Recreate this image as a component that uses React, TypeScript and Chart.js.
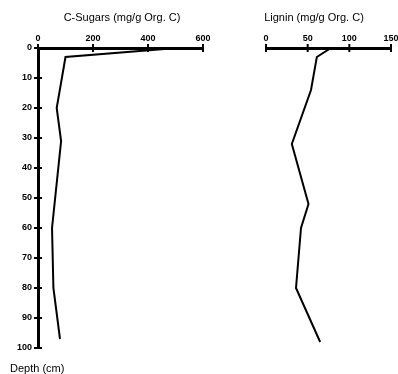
import React, { useEffect, useRef } from 'react';
import { Chart, registerables } from 'chart.js';
Chart.register(...registerables);

const sugarDepths = [0, 3, 20, 31, 60, 80, 97];
const sugarValues = [505, 100, 68, 84, 51, 56, 80];
const ligninDepths = [0, 3, 14, 32, 52, 60, 80, 98];
const ligninValues = [78, 61, 54, 31, 51, 42, 36, 65];
const depthTicks = [0, 10, 20, 30, 40, 50, 60, 70, 80, 90, 100];
const sugarTicks = [0, 200, 400, 600];
const ligninTicks = [0, 50, 100, 150];

const FONT = '"Liberation Sans", Arial, Helvetica, sans-serif';

const crossTicks = {
  id: 'crossTicks',
  afterDraw(chart: any) {
    const ctx = chart.ctx;
    ctx.save();
    ctx.strokeStyle = '#000';
    ctx.lineWidth = 2;
    const x = chart.scales.x;
    const top = chart.chartArea.top;
    x.ticks.forEach((t: any) => {
      const px = x.getPixelForValue(t.value);
      ctx.beginPath();
      ctx.moveTo(px, top - 4);
      ctx.lineTo(px, top + 4);
      ctx.stroke();
    });
    const y = chart.scales.y;
    if (y.options.display) {
      const left = chart.chartArea.left;
      y.ticks.forEach((t: any) => {
        const py = y.getPixelForValue(t.value);
        ctx.beginPath();
        ctx.moveTo(left - 4, py);
        ctx.lineTo(left + 4, py);
        ctx.stroke();
      });
    }
    ctx.restore();
  },
};

function makeConfig(depths: number[], values: number[], xTicks: number[], showY: boolean, padLeft: number) {
  const data = depths.map((d, i) => ({ x: values[i], y: d }));
  return {
    type: 'scatter' as const,
    data: {
      datasets: [
        {
          data,
          showLine: true,
          borderColor: '#000',
          borderWidth: 2,
          pointRadius: 0,
          tension: 0,
          fill: false,
        },
      ],
    },
    options: {
      animation: false as const,
      responsive: false,
      maintainAspectRatio: false,
      layout: { padding: { left: padLeft, top: 0, right: 7, bottom: 26 } },
      plugins: { legend: { display: false }, tooltip: { enabled: false }, title: { display: false } },
      scales: {
        x: {
          type: 'linear' as const,
          position: 'top' as const,
          min: xTicks[0],
          max: xTicks[xTicks.length - 1],
          afterBuildTicks: (s: any) => {
            s.ticks = xTicks.map((v) => ({ value: v }));
          },
          afterFit: (s: any) => {
            s.height = 48;
            s.paddingLeft = 0;
            s.paddingRight = 0;
          },
          ticks: { color: '#000', font: { family: FONT, size: 9, weight: 'bold' as const }, padding: 4, maxRotation: 0, autoSkip: false },
          grid: { display: true, drawOnChartArea: false, drawTicks: false, color: '#000' },
          border: { display: true, width: 3, color: '#000' },
        },
        y: {
          type: 'linear' as const,
          display: showY,
          reverse: true,
          min: depthTicks[0],
          max: depthTicks[depthTicks.length - 1],
          afterBuildTicks: (s: any) => {
            s.ticks = depthTicks.map((v) => ({ value: v }));
          },
          afterFit: (s: any) => {
            s.width = 38;
            s.paddingTop = 0;
            s.paddingBottom = 0;
          },
          ticks: { color: '#000', font: { family: FONT, size: 9, weight: 'bold' as const }, padding: 6, autoSkip: false },
          grid: { display: true, drawOnChartArea: false, drawTicks: false, color: '#000' },
          border: { display: true, width: 3, color: '#000' },
        },
      },
    },
    plugins: [crossTicks],
  };
}

export default function App() {
  const leftRef = useRef<HTMLCanvasElement>(null);
  const rightRef = useRef<HTMLCanvasElement>(null);

  useEffect(() => {
    const c1 = new Chart(leftRef.current as HTMLCanvasElement, makeConfig(sugarDepths, sugarValues, sugarTicks, true, 0) as any);
    const c2 = new Chart(rightRef.current as HTMLCanvasElement, makeConfig(ligninDepths, ligninValues, ligninTicks, false, 18) as any);
    return () => {
      c1.destroy();
      c2.destroy();
    };
  }, []);

  const textStyle: React.CSSProperties = {
    position: 'absolute',
    fontFamily: FONT,
    fontSize: 11,
    lineHeight: '14px',
    color: '#000',
    whiteSpace: 'nowrap',
  };

  return (
    <div style={{ position: 'absolute', left: 0, top: 0, width: 398, height: 374, overflow: 'hidden', background: '#fff' }}>
      <canvas ref={leftRef} width={210} height={374} style={{ position: 'absolute', left: 0, top: 0, width: 210, height: 374 }} />
      <canvas ref={rightRef} width={188} height={374} style={{ position: 'absolute', left: 210, top: 0, width: 188, height: 374 }} />
      <div style={{ ...textStyle, left: 22, top: 10, width: 200, textAlign: 'center' }}>C-Sugars (mg/g Org. C)</div>
      <div style={{ ...textStyle, left: 214, top: 10, width: 200, textAlign: 'center' }}>Lignin (mg/g Org. C)</div>
      <div style={{ ...textStyle, left: 10, top: 361 }}>Depth (cm)</div>
    </div>
  );
}
